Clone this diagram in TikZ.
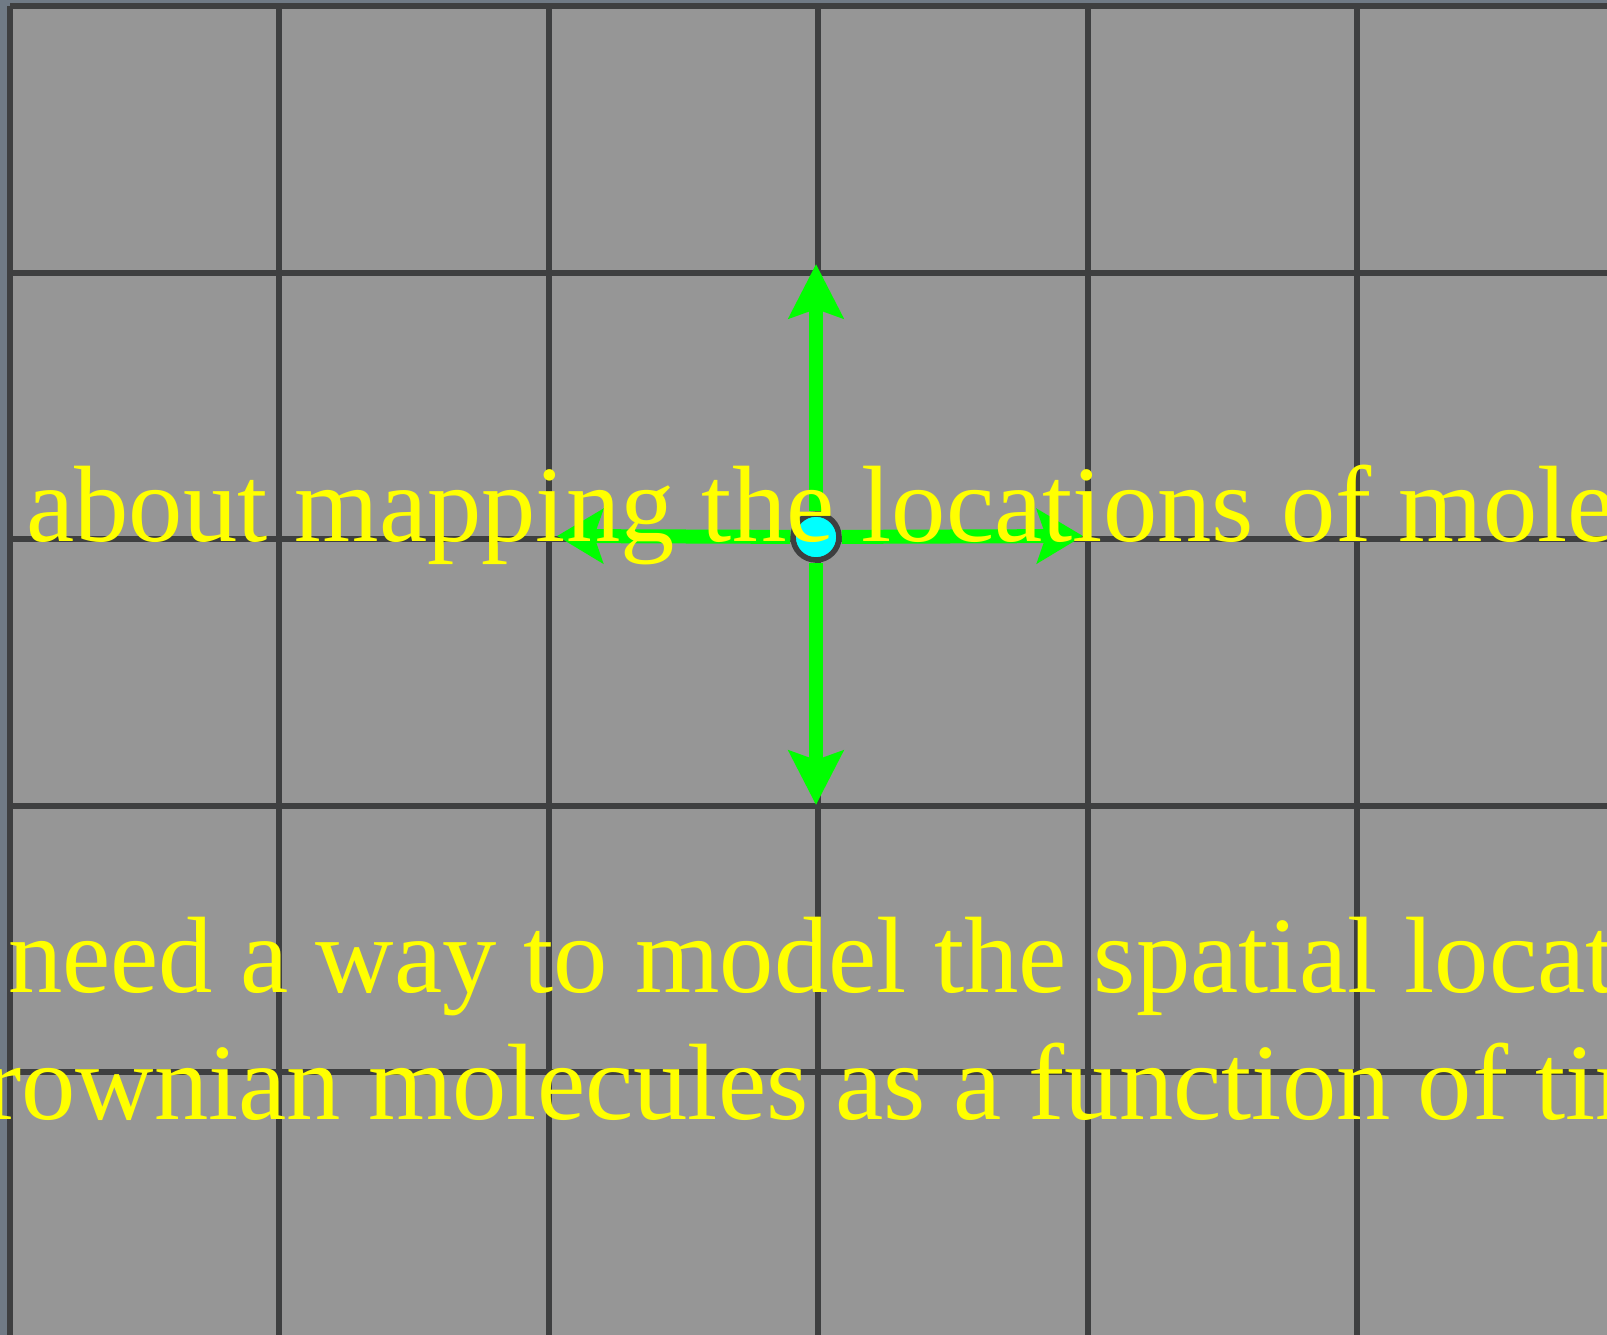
\documentclass[tikz,border=0pt]{standalone}
\usepackage{fontspec}
\setmainfont{Liberation Serif}
\usetikzlibrary{arrows.meta}

\definecolor{stripgray}{RGB}{112,122,133}
\definecolor{cellgray}{RGB}{150,150,150}
\definecolor{gridgray}{RGB}{62,63,64}
\definecolor{arrowgreen}{RGB}{0,255,0}
\definecolor{molcyan}{RGB}{0,255,255}
\definecolor{textyellow}{RGB}{255,255,0}

\begin{document}
\begin{tikzpicture}[
  x=1bp, y=-1bp,
  gridline/.style={line width=6bp, draw=gridgray},
  arrowline/.style={line width=14bp, draw=arrowgreen,
    -{Stealth[length=#1, width=54bp, inset=9bp]}},
  molnode/.style={circle, draw=gridgray, fill=molcyan, line width=5.5bp, inner sep=0pt, minimum size=46bp},
  caption/.style={anchor=base west, inner sep=0pt, text=textyellow, font=\fontsize{109}{125}\selectfont}
]
  \useasboundingbox (0,0) rectangle (1607,1335);
  \clip (0,0) rectangle (1607,1335);

  % Background and tiles
  \fill[stripgray] (0,0) rectangle (1607,1335);
  \fill[cellgray] (10,6) rectangle (1607,1335);

  % Grid lines
  \foreach \i in {0,...,5} {
    \draw[gridline] ({10+269.4*\i},6) -- ({10+269.4*\i},1335);
  }
  \foreach \j in {0,...,5} {
    \draw[gridline] (10,{6+266.6*\j}) -- (1607,{6+266.6*\j});
  }

  % Molecule and its four possible steps
  \node[molnode] (mol) at (816,537) {};
  \coordinate (tipN) at (816,264);
  \coordinate (tipS) at (816,805);
  \coordinate (tipW) at (557,536);
  \coordinate (tipE) at (1083,536);

  \draw[arrowline=54bp] (mol) -- (tipN);
  \draw[arrowline=54bp] (mol) -- (tipS);
  \draw[arrowline=46bp] (mol) -- (tipW);
  \draw[arrowline=46bp] (mol) -- (tipE);

  % Text
  \node[caption] (line1) at (26,541) {about mapping the locations of mole};
  \node[caption] (line2) at (8,992) {need a way to model the spatial locat};
  \node[caption] (line3) at (-15,1119) {rownian molecules as a function of tim};
\end{tikzpicture}
\end{document}
